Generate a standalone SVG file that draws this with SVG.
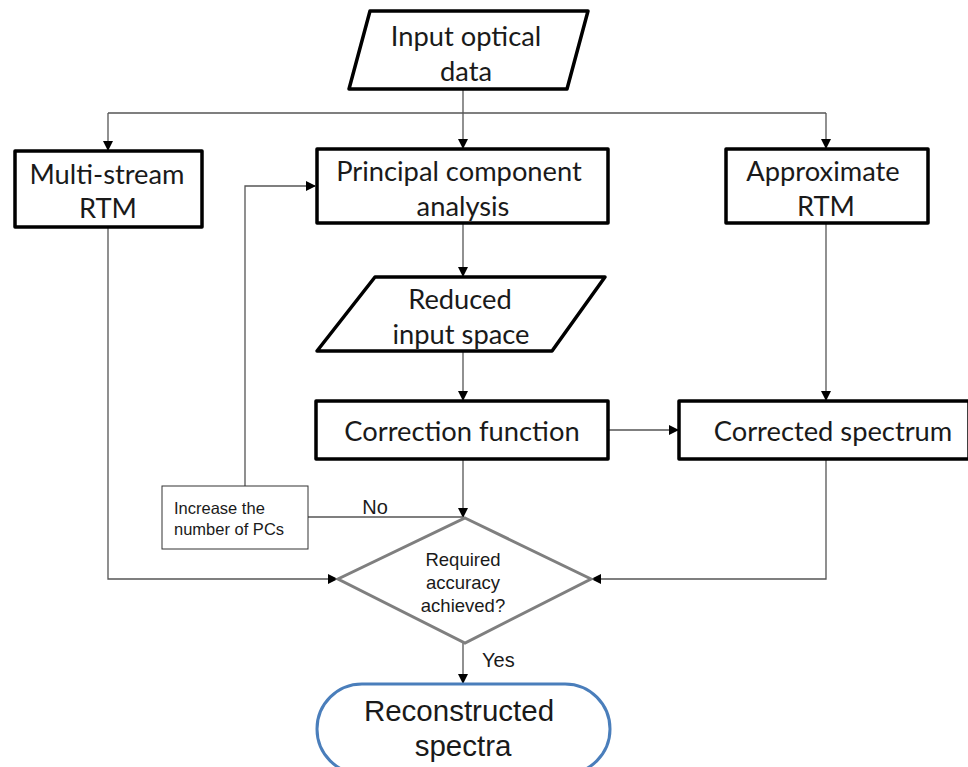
<svg xmlns="http://www.w3.org/2000/svg" width="968" height="767" viewBox="0 0 968 767">
<defs>
<marker id="ah" markerWidth="10" markerHeight="10" refX="9" refY="5" orient="auto" markerUnits="userSpaceOnUse">
<path d="M0,0 L10,5 L0,10 Z" fill="#000"/>
</marker>
<style>
.box{fill:#fff;stroke:#000;stroke-width:3.5;stroke-linejoin:round}
.t{font-family:Lato,"Open Sans",sans-serif;font-size:27.3px;fill:#1a1a1a;text-anchor:middle}
.s{font-family:"Liberation Sans",Arial,sans-serif;fill:#1a1a1a}
.c{fill:none;stroke:#555;stroke-width:1.3}
</style>
</defs>
<rect width="968" height="767" fill="#fff"/>
<g id="connectors">
<path class="c" d="M463,89 V113"/>
<path class="c" d="M108,113 H826"/>
<path class="c" d="M108,113 V150" marker-end="url(#ah)"/>
<path class="c" d="M463,113 V148" marker-end="url(#ah)"/>
<path class="c" d="M826,113 V148" marker-end="url(#ah)"/>
<path class="c" d="M463,223 V276" marker-end="url(#ah)"/>
<path class="c" d="M463,351 V400" marker-end="url(#ah)"/>
<path class="c" d="M826,223 V400" marker-end="url(#ah)"/>
<path class="c" d="M608,430 H678" marker-end="url(#ah)"/>
<path class="c" d="M463,459 V517" marker-end="url(#ah)"/>
<path class="c" d="M826,459 V579 H592" marker-end="url(#ah)"/>
<path class="c" d="M108,227 V579 H337" marker-end="url(#ah)"/>
<path class="c" d="M308,517 H463"/>
<path class="c" d="M245,486 V186 H315" marker-end="url(#ah)"/>
<path class="c" d="M463,643 V683" marker-end="url(#ah)"/>
<text class="s" x="375" y="514" font-size="20" text-anchor="middle">No</text>
<text class="s" x="482" y="667" font-size="20">Yes</text>
</g>
<g id="input">
<polygon class="box" points="370,11 588,11 567,89 349,89"/>
<text class="t" x="466" y="46">Input optical</text>
<text class="t" x="466" y="81">data</text>
</g>
<g id="multistream">
<rect class="box" x="15" y="151" width="187" height="76"/>
<text class="t" x="107" y="184">Multi-stream</text>
<text class="t" x="108" y="218">RTM</text>
</g>
<g id="pca">
<rect class="box" x="317" y="149" width="291" height="74"/>
<text class="t" x="459" y="181">Principal component</text>
<text class="t" x="463" y="216">analysis</text>
</g>
<g id="approx">
<rect class="box" x="726" y="149" width="202" height="74"/>
<text class="t" x="823" y="181">Approximate</text>
<text class="t" x="826" y="216">RTM</text>
</g>
<g id="reduced">
<polygon class="box" points="375,277 605,277 552,351 317,351"/>
<text class="t" x="460" y="309">Reduced</text>
<text class="t" x="461" y="344">input space</text>
</g>
<g id="correction">
<rect class="box" x="316" y="401" width="292" height="58"/>
<text class="t" x="462" y="441">Correction function</text>
</g>
<g id="corrected">
<rect class="box" x="679" y="401" width="290" height="58"/>
<text class="t" x="833" y="441">Corrected spectrum</text>
</g>
<g id="increase">
<rect x="162" y="486" width="146" height="63" fill="#fff" stroke="#333" stroke-width="1"/>
<text class="s" x="174" y="514" font-size="16.5">Increase the</text>
<text class="s" x="174" y="535" font-size="16.5">number of PCs</text>
</g>
<g id="decision">
<polygon points="465,518 591,579 465,643 338,579" fill="#fff" stroke="#7f7f7f" stroke-width="3"/>
<text class="s" x="463" y="566" font-size="18.5" text-anchor="middle">Required</text>
<text class="s" x="463" y="589" font-size="18.5" text-anchor="middle">accuracy</text>
<text class="s" x="463" y="612" font-size="18.5" text-anchor="middle">achieved?</text>
</g>
<g id="reconstructed">
<rect x="317" y="684" width="293" height="90" rx="45" ry="45" fill="#fff" stroke="#4a7ebb" stroke-width="3"/>
<text class="s" x="459" y="721" font-size="29.5" text-anchor="middle">Reconstructed</text>
<text class="s" x="463" y="756" font-size="29.5" text-anchor="middle">spectra</text>
</g>
</svg>
